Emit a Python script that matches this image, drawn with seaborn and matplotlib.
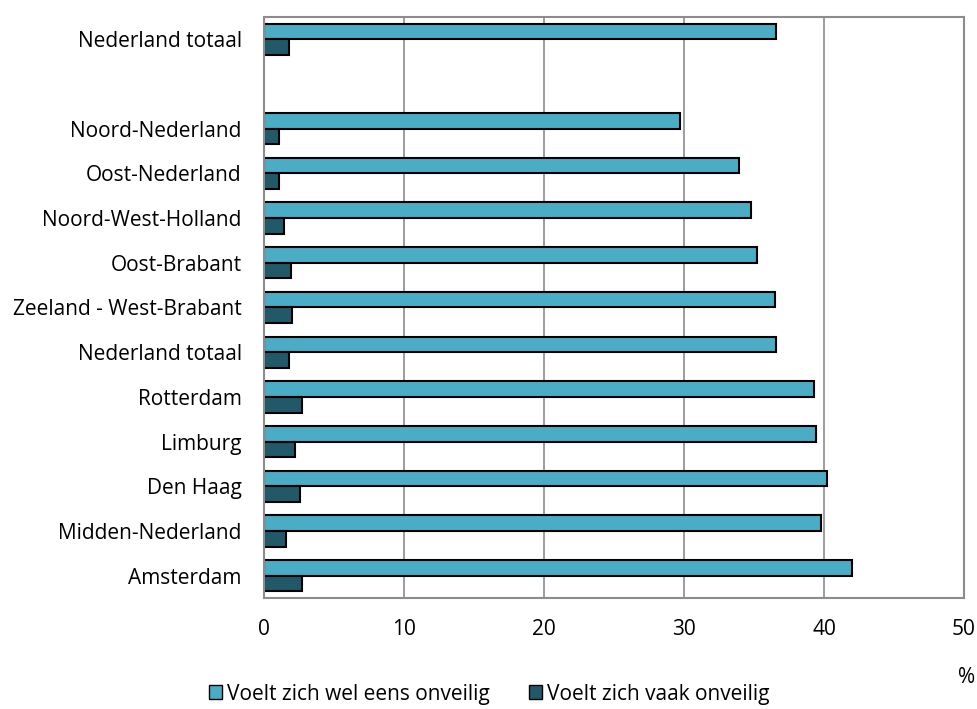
import pandas as pd
import matplotlib
matplotlib.use('Agg')
import matplotlib.pyplot as plt
import seaborn as sns
from matplotlib.patches import Patch

# data, top to bottom
labels = ['Nederland totaal', '', 'Noord-Nederland', 'Oost-Nederland', 'Noord-West-Holland',
          'Oost-Brabant', 'Zeeland - West-Brabant', 'Nederland totaal', 'Rotterdam',
          'Limburg', 'Den Haag', 'Midden-Nederland', 'Amsterdam']
wel_eens = [36.6, None, 29.7, 33.9, 34.8, 35.2, 36.5, 36.6, 39.3, 39.4, 40.2, 39.8, 42.0]
vaak = [1.8, None, 1.1, 1.1, 1.4, 1.9, 2.0, 1.8, 2.7, 2.2, 2.6, 1.6, 2.7]
series = ['Voelt zich wel eens onveilig', 'Voelt zich vaak onveilig']
colors = ['#4bacc6', '#215968']

# unique keys because 'Nederland totaal' shows up twice
keys = [f'{i:02d}' for i in range(len(labels))]
df = pd.DataFrame({'key': keys * 2,
                   'value': wel_eens + vaak,
                   'serie': [series[0]] * len(keys) + [series[1]] * len(keys)})

sns.set_style('white')
plt.rcParams['font.family'] = ['Open Sans', 'DejaVu Sans']
plt.rcParams['text.color'] = 'black'
plt.rcParams['xtick.color'] = 'black'
plt.rcParams['ytick.color'] = 'black'
fs = 15

fig = plt.figure(figsize=(9.78, 7.09), dpi=100)
ax = fig.add_axes([0.27, 0.1566, 0.7157, 0.8194])

sns.barplot(data=df, y='key', x='value', hue='serie', order=keys, hue_order=series,
            palette=colors, saturation=1, orient='h', width=0.7, edgecolor='black',
            linewidth=1.5, legend=False, ax=ax)

ax.set_xlim(0, 50)
ax.set_xticks([0, 10, 20, 30, 40, 50])
ax.set_yticks(range(len(labels)))
ax.set_yticklabels(labels)
ax.set_xlabel('')
ax.set_ylabel('')
ax.tick_params(axis='x', length=0, pad=15, labelsize=fs)
ax.tick_params(axis='y', length=0, pad=16, labelsize=fs)
ax.grid(axis='x', color='#8c8c8c', linewidth=1.2)
ax.set_axisbelow(True)
for s in ax.spines.values():
    s.set_color('#8c8c8c')
    s.set_linewidth(1.5)

handles = [Patch(facecolor=c, edgecolor='black', label=s) for c, s in zip(colors, series)]
fig.legend(handles=handles, loc='center', bbox_to_anchor=(0.5, 0.021), ncol=2, frameon=False,
           fontsize=fs, handlelength=0.65, handleheight=0.65, handletextpad=0.2,
           columnspacing=1.9, borderpad=0)
fig.text(0.988, 0.045, '%', ha='center', va='center', fontsize=fs)

fig.savefig('out.png', dpi=100)
